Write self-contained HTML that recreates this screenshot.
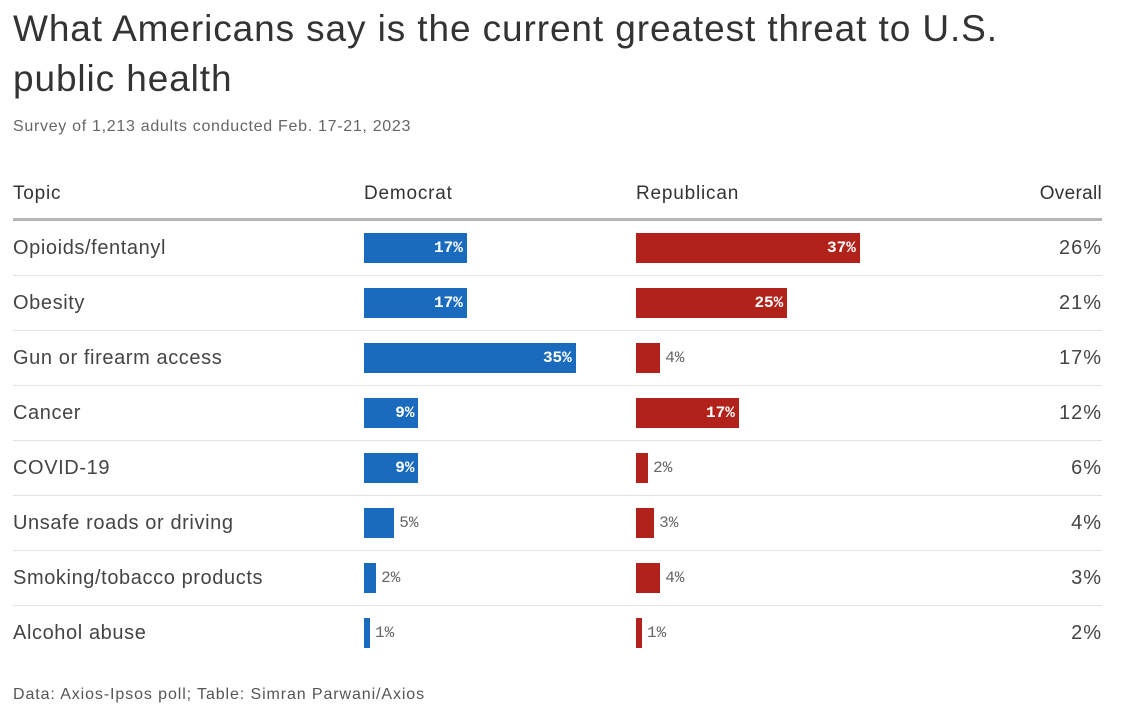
<!DOCTYPE html>
<html><head><meta charset="utf-8"><style>
body{margin:0;width:1142px;height:712px;background:#fff;font-family:"Liberation Sans",sans-serif;color:#333;position:relative;overflow:hidden}
.a{position:absolute;white-space:nowrap}
.t{left:13px;top:4px;font-size:37px;letter-spacing:0.9px;line-height:50px;color:#333;width:1030px;white-space:normal}
.h{font-size:19px;letter-spacing:0.8px;top:183px;color:#333}
.lab{font-size:20px;letter-spacing:0.6px;color:#444}
.bar{position:absolute;height:30px}
.in{position:absolute;font-family:"Liberation Mono",monospace;font-weight:bold;font-size:16px;color:#fff;line-height:30px}
.out{position:absolute;font-family:"Liberation Mono",monospace;font-size:16px;color:#666;line-height:30px}
.sep{position:absolute;left:13px;width:1089px;height:1px;background:#e3e3e3}
</style></head><body>
<div class="a t">What Americans say is the current greatest threat to U.S. public health</div>
<div class="a" style="left:13px;top:118px;font-size:16px;letter-spacing:0.7px;color:#666">Survey of 1,213 adults conducted Feb. 17-21, 2023</div>
<div class="a h" style="left:13px">Topic</div>
<div class="a h" style="left:364px">Democrat</div>
<div class="a h" style="left:636px">Republican</div>
<div class="a h" style="right:40px;letter-spacing:0.3px">Overall</div>
<div class="a" style="left:13px;top:218px;width:1089px;height:3px;background:#b5b5b5"></div>
<div id="rows"></div>
<div class="a" style="left:13px;top:686px;font-size:16px;letter-spacing:0.9px;color:#555">Data: Axios-Ipsos poll; Table: Simran Parwani/Axios</div>
<script>
const topics=["Opioids/fentanyl","Obesity","Gun or firearm access","Cancer","COVID-19","Unsafe roads or driving","Smoking/tobacco products","Alcohol abuse"];
const democrat=[17,17,35,9,9,5,2,1];
const republican=[37,25,4,17,2,3,4,1];
const overall=[26,21,17,12,6,4,3,2];
const root=document.getElementById('rows');
const scale=6.05, rowTop=233, rowH=55;
function mk(cls,css,txt){const e=document.createElement('div');e.className=cls;e.style.cssText=css;if(txt!=null)e.textContent=txt;root.appendChild(e);return e;}
topics.forEach((t,i)=>{
  const y=rowTop+i*rowH;
  const l=mk('a lab','left:13px;top:'+(y+4)+'px',t);
  
  
  [[democrat[i],364,'#1a6bbd','democrat'],[republican[i],636,'#b0221a','republican']].forEach(([v,x0,c,n])=>{
    const w=v*scale;
    const b=mk('bar','left:'+x0+'px;top:'+y+'px;width:'+w+'px;background:'+c);
    
    
    let lab;
    if(v>=9){lab=mk('in','left:'+(x0+w-50)+'px;width:46px;text-align:right;top:'+y+'px',v+'%');}
    else{lab=mk('out','left:'+(x0+w+5)+'px;top:'+y+'px',v+'%');}
    
    
  });
  const o=mk('a','right:40px;top:'+(y+4)+'px;font-size:20px;letter-spacing:1px;color:#444',overall[i]+'%');
  
  
  if(i<topics.length-1){const s=mk('sep','top:'+(y+42)+'px');
    
    }
});
</script>
</body></html>
